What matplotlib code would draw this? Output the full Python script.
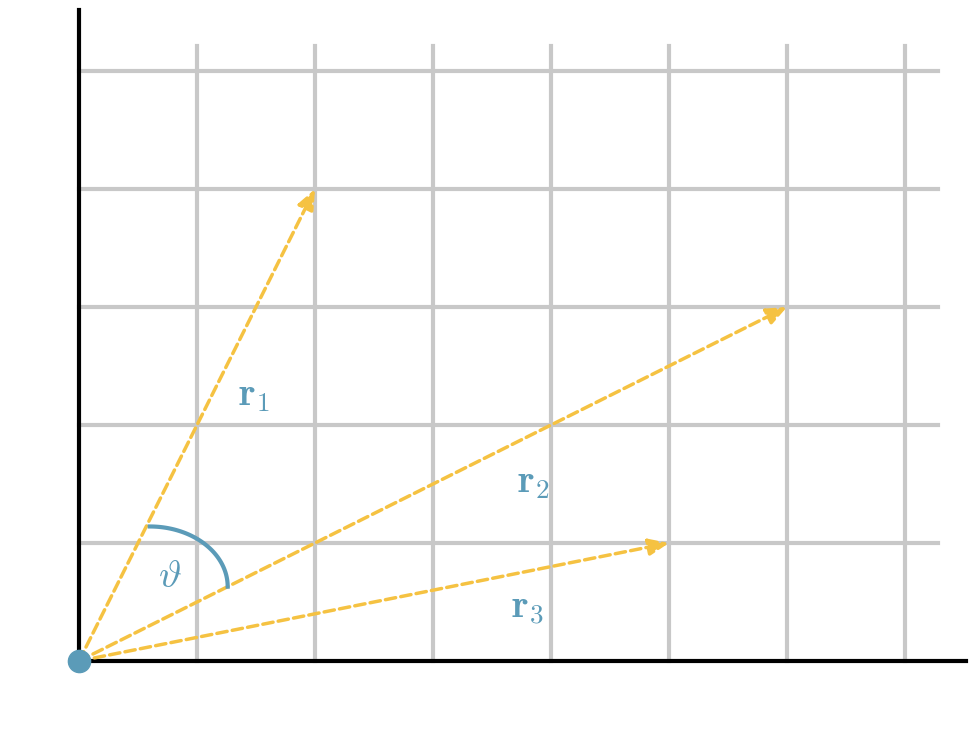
import matplotlib
matplotlib.use("Agg")
import numpy as np
import matplotlib.pyplot as plt

plt.rcParams['mathtext.fontset'] = 'cm'

# vector tips (grid units)
vec_x = [2, 6, 5]
vec_y = [4, 3, 1]
labels = [r'$\mathbf{r}_1$', r'$\mathbf{r}_2$', r'$\mathbf{r}_3$']
label_x = [1.48, 3.85, 3.8]
label_y = [2.25, 1.52, 0.45]

yellow = '#f5c242'
blue = '#5b9bb8'
grey = '#c8c8c8'

fig = plt.figure(figsize=(9.78, 7.51), dpi=100)
ax = fig.add_axes([0, 0, 1, 1])
ax.set_xlim(-79 / 118, (978 - 79) / 118)
ax.set_ylim(-90 / 118, 661 / 118)
ax.axis('off')

# grid
for i in range(1, 8):
    ax.plot([i, i], [0, 5.21], color=grey, lw=3, zorder=1)
for j in range(1, 6):
    ax.plot([0, 7.28], [j, j], color=grey, lw=3, zorder=1)

# axes
ax.plot([0, 7.52], [0, 0], color='black', lw=3, zorder=3)
ax.plot([0, 0], [0, 5.52], color='black', lw=3, zorder=3)

# vectors
for x, y in zip(vec_x, vec_y):
    ax.annotate('', xy=(x, y), xytext=(0, 0),
                arrowprops=dict(arrowstyle='-|>,head_length=1.2,head_width=0.5',
                                color=yellow, lw=2.5, linestyle=(0, (3, 1.5)),
                                shrinkA=0, shrinkB=0), zorder=4)

for lx, ly, t in zip(label_x, label_y, labels):
    ax.text(lx, ly, t, color=blue, fontsize=28, ha='center', va='center', zorder=5)

# angle arc
t = np.linspace(0, np.pi / 2, 100)
ax.plot(0.6 + 0.66 * np.cos(t), 0.63 + 0.51 * np.sin(t), color=blue, lw=3, zorder=5)
ax.text(0.77, 0.72, r'$\vartheta$', color=blue, fontsize=28, ha='center', va='center', zorder=5)

ax.plot(0, 0, 'o', color=blue, markersize=16, zorder=6, clip_on=False)

fig.savefig('out.png', dpi=100)
